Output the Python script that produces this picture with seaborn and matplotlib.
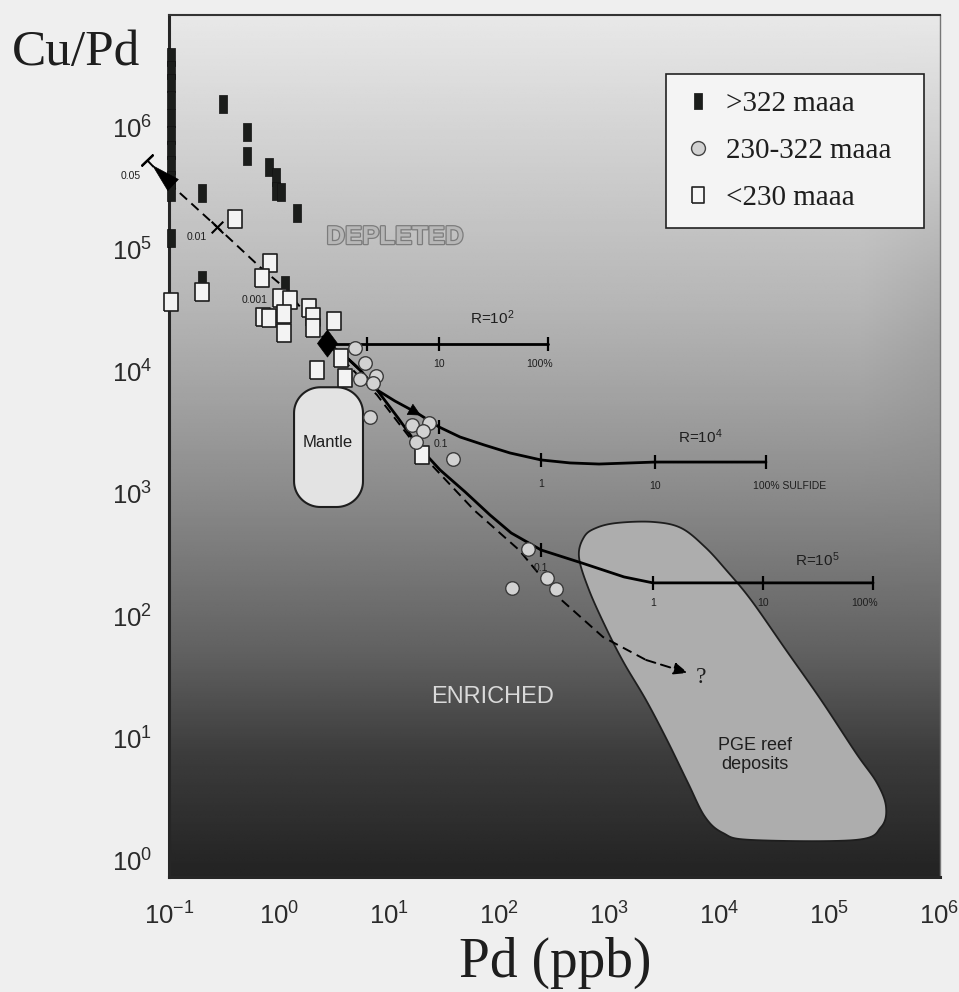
import numpy as np
import matplotlib
matplotlib.use("Agg")
import matplotlib.pyplot as plt
import seaborn as sns
import matplotlib.patheffects as pe
from matplotlib.markers import MarkerStyle
from matplotlib.lines import Line2D
from matplotlib.font_manager import FontProperties

# ---------------- data ----------------
# >322 maaa (Pd ppb, Cu/Pd)
old_pd = [0.104, 0.104, 0.104, 0.104, 0.104, 0.104, 0.104, 0.104, 0.104, 0.104, 0.104,
          0.31, 0.51, 0.51, 0.81, 0.94, 0.94, 1.04, 0.20, 1.46, 0.20, 1.13]
old_cupd = [5.07e6, 3.96e6, 3.10e6, 2.26e6, 1.61e6, 1.17e6, 8.8e5, 6.6e5, 5.0e5, 4.0e5, 1.68e5,
            2.1e6, 1.23e6, 7.9e5, 6.4e5, 5.3e5, 4.1e5, 4.0e5, 3.9e5, 2.7e5, 7.6e4, 6.9e4]

# 230-322 maaa
mid_pd = [4.9, 6.0, 5.4, 7.6, 7.2, 6.7, 16.2, 23, 20.4, 17.6, 38, 184, 131, 273, 330]
mid_cupd = [2.1e4, 1.6e4, 1.18e4, 1.25e4, 1.1e4, 5.8e3, 5.0e3, 5.2e3, 4.4e3, 3.6e3, 2.6e3,
            480, 230, 280, 226]

# <230 maaa
young_pd = [0.105, 0.20, 0.40, 0.83, 0.70, 1.02, 1.26, 0.72, 0.81, 1.11, 1.11, 1.86, 2.05,
            2.05, 3.16, 2.2, 3.66, 4.0, 20]
young_cupd = [5.0e4, 6.1e4, 2.4e5, 1.05e5, 7.9e4, 5.4e4, 5.2e4, 3.8e4, 3.7e4, 4.0e4, 2.8e4,
              4.5e4, 3.8e4, 3.1e4, 3.5e4, 1.4e4, 1.75e4, 1.2e4, 2.8e3]

# starting magma composition
start_pd, start_cupd = 2.73, 2.32e4

# sulfide segregation curves for R factors
r2_pd = [2.73, 279]
r2_cupd = [2.30e4, 2.30e4]
r4_pd = [2.73, 3.98, 5.45, 7.78, 11.3, 18.0, 28.5, 44.2, 73.1, 126, 241, 442, 811, 2620, 26700]
r4_cupd = [2.32e4, 1.82e4, 1.40e4, 9.6e3, 7.8e3, 6.22e3, 4.78e3, 3.96e3, 3.41e3, 2.93e3,
           2.57e3, 2.43e3, 2.38e3, 2.47e3, 2.47e3]
r5_pd = [2.73, 3.98, 5.45, 7.78, 12.1, 18.7, 29.1, 49.1, 82.8, 129, 241, 568, 1370, 2510,
         25100, 251000]
r5_cupd = [2.32e4, 1.82e4, 1.40e4, 9.6e3, 5.66e3, 3.28e3, 2.13e3, 1.41e3, 912, 650, 472,
           369, 284, 254, 254, 254]

# fractionation trend (dashed)
trend_pd = [0.063, 0.102, 0.273, 0.671, 1.13, 1.72, 2.73, 7.78, 22.1, 59.3, 152, 344, 881,
            2170, 5220]
trend_cupd = [7.29e5, 4.64e5, 2.07e5, 9.72e4, 6.55e4, 4.09e4, 2.32e4, 8.73e3, 2.57e3, 1.0e3,
              472, 195, 91.7, 59.5, 46.6]
trend_marks_pd = [0.063, 0.273, 1.13]
trend_marks_lbl = ["0.05", "0.01", "0.001"]

# % sulfide ticks
r2_tick_pd = [6.3, 28.5, 279]
r2_tick_lbl = ["", "10", "100%"]
r4_tick_pd = [28.5, 241, 2620, 26700]
r4_tick_lbl = ["0.1", "1", "10", "100% SULFIDE"]
r5_tick_pd = [241, 2510, 25100, 251000]
r5_tick_lbl = ["0.1", "1", "10", "100%"]

# fields
mantle_pd = [1.37, 5.8]
mantle_cupd = [1.06e3, 1.01e4]
pge_pd = [593, 762, 1183, 2512, 4515, 7460, 11590, 19540, 40600, 84600, 175900, 272900,
          329600, 297000, 175900, 19540, 10870, 7460, 5224, 3365, 2168, 1368, 959, 658, 533]
pge_cupd = [603, 714, 785, 800, 714, 499, 324, 184, 71.8, 28.0, 10.3, 5.87, 3.74, 2.56,
            2.01, 2.01, 2.29, 3.10, 5.87, 13.2, 28.0, 56.2, 104.6, 222, 414]

x_ticks = [1e-1, 1e0, 1e1, 1e2, 1e3, 1e4, 1e5, 1e6]
y_ticks = [1e0, 1e1, 1e2, 1e3, 1e4, 1e5, 1e6]

# ---------------- style ----------------
sns.set_style("white")
plt.rcParams["font.family"] = ["Liberation Sans", "DejaVu Sans"]
plt.rcParams["mathtext.default"] = "regular"
INK = "#1e1e1e"

fig = plt.figure(figsize=(9.59, 9.92), dpi=100, facecolor="#efefef")
rect = [169 / 959, 1 - 877 / 992, (940 - 169) / 959, (877 - 15) / 992]

# shaded background, light at the top and dark at the bottom
bg = fig.add_axes(rect, zorder=0)
stops_y = np.array([0.0, 0.02, 0.14, 0.26, 0.44, 0.55, 0.66, 0.78, 0.90, 1.0])
stops_v = np.array([0.14, 0.15, 0.235, 0.38, 0.54, 0.63, 0.71, 0.78, 0.85, 0.91])
gy = np.linspace(0, 1, 400)
gx = np.linspace(0, 1, 200)
col = np.interp(gy, stops_y, stops_v)
shade = col[:, None] * np.ones_like(gx)[None, :]
edge = np.clip((gx - 0.9) / 0.1, 0, 1)[None, :] * np.exp(-((gy[:, None] - 0.66) / 0.16) ** 2)
shade = shade - 0.045 * edge
bg.imshow(shade, extent=[0, 1, 0, 1], origin="lower", aspect="auto", cmap="gray",
          vmin=0, vmax=1, interpolation="bilinear")
bg.set_xlim(0, 1)
bg.set_ylim(0, 1)
bg.axis("off")

ax = fig.add_axes(rect, zorder=1)
ax.patch.set_alpha(0)
ax.set_xscale("log")
ax.set_yscale("log")
ax.set_xlim(0.1, 1.02e6)
ax.set_ylim(1, 1.117e7)


def lg(v):
    return np.log10(np.asarray(v, dtype=float))


def on_curve(xq, cx, cy):
    return 10 ** np.interp(lg(xq), lg(cx), lg(cy))


def closed_spline(px, py, n=14):
    pts = np.column_stack([px, py])
    N = len(pts)
    t = np.linspace(0, 1, n, endpoint=False)[:, None]
    out = []
    for i in range(N):
        p0, p1, p2, p3 = pts[(i - 1) % N], pts[i], pts[(i + 1) % N], pts[(i + 2) % N]
        out.append(0.5 * (2 * p1 + (-p0 + p2) * t + (2 * p0 - 5 * p1 + 4 * p2 - p3) * t ** 2
                          + (-p0 + 3 * p1 - 3 * p2 + p3) * t ** 3))
    out = np.vstack(out)
    return out[:, 0], out[:, 1]


def rounded_box(x0, x1, y0, y1, rx, ry, n=20):
    xs, ys = [], []
    corners = [(x1 - rx, y1 - ry, 0), (x0 + rx, y1 - ry, 90),
               (x0 + rx, y0 + ry, 180), (x1 - rx, y0 + ry, 270)]
    for cx, cy, a0 in corners:
        a = np.radians(np.linspace(a0, a0 + 90, n))
        xs.extend(cx + rx * np.cos(a))
        ys.extend(cy + ry * np.sin(a))
    return np.array(xs), np.array(ys)


# PGE reef field
sx, sy = closed_spline(lg(pge_pd), lg(pge_cupd))
ax.fill(10 ** sx, 10 ** sy, facecolor="#adadad", edgecolor=INK, lw=1.3, zorder=2)

# mantle field
mx, my = rounded_box(lg(mantle_pd[0]), lg(mantle_pd[1]), lg(mantle_cupd[0]),
                     lg(mantle_cupd[1]), 0.24, 0.21)
ax.fill(10 ** mx, 10 ** my, facecolor="#e3e3e3", edgecolor=INK, lw=1.5, zorder=2)

# model curves
for cx, cy in [(r2_pd, r2_cupd), (r4_pd, r4_cupd), (r5_pd, r5_cupd)]:
    sns.lineplot(x=cx, y=cy, sort=False, estimator=None, color="black", lw=2.0,
                 ax=ax, zorder=3)
sns.lineplot(x=trend_pd[:-1], y=trend_cupd[:-1], sort=False, estimator=None, color="black",
             lw=1.4, linestyle=(0, (5, 3)), ax=ax, zorder=3)
ax.lines[-1].set_clip_on(False)

# sulfide-percentage ticks and their labels
lab_off = {"r2": (0, -14.5), "r4": (0, -17), "r5": (0, -14.5)}
for key, tpd, tlb, cx, cy in [("r2", r2_tick_pd, r2_tick_lbl, r2_pd, r2_cupd),
                              ("r4", r4_tick_pd, r4_tick_lbl, r4_pd, r4_cupd),
                              ("r5", r5_tick_pd, r5_tick_lbl, r5_pd, r5_cupd)]:
    ty = on_curve(tpd, cx, cy)
    sns.scatterplot(x=tpd, y=ty, marker="|", s=110, color="black", linewidth=1.6,
                    ax=ax, zorder=3.5)
    for xv, yv, t in zip(tpd, ty, tlb):
        if not t:
            continue
        dx, dy = lab_off[key]
        ha = "center"
        if t.startswith("100%"):
            dx = -6
        if t == "100% SULFIDE":
            ha, dx = "left", -9.5
        if t == "0.1":
            dy = -12.5 if key == "r4" else -13
            dx = 1 if key == "r4" else 0
        ax.annotate(t, (xv, yv), xytext=(dx, dy), textcoords="offset points", ha=ha,
                    va="center", fontsize=7.5, color=INK, zorder=8)

# R labels
ax.text(86.1, 3.72e4, "R=10$^2$", fontsize=11, color=INK, ha="center", va="center", zorder=8)
ax.text(6.7e3, 3.96e3, "R=10$^4$", fontsize=11, color=INK, ha="center", va="center", zorder=8)
ax.text(7.78e4, 391, "R=10$^5$", fontsize=11, color=INK, ha="center", va="center", zorder=8)

# marks along the fractionation trend
ty_marks = on_curve(trend_marks_pd, trend_pd, trend_cupd)
sns.scatterplot(x=[trend_marks_pd[0]], y=[ty_marks[0]], marker=(2, 2, -46), s=110,
                color="black", linewidth=1.6, ax=ax, zorder=6, clip_on=False)
sns.scatterplot(x=[trend_marks_pd[1]], y=[ty_marks[1]], marker="x", s=70,
                color="black", linewidth=1.5, ax=ax, zorder=6)
mark_off = [(-12, -11.5), (-14.5, -7), (-21.5, -8.5)]
for xv, yv, t, off in zip(trend_marks_pd, ty_marks, trend_marks_lbl, mark_off):
    ax.annotate(t, (xv, yv), xytext=off, textcoords="offset points", ha="center",
                va="center", fontsize=7.5, color=INK, zorder=8, annotation_clip=False)

# arrowheads
ax.annotate("", xy=(0.070, 6.64e5), xytext=(0.1065, 4.64e5),
            arrowprops=dict(arrowstyle="-|>,head_length=0.8,head_width=0.22",
                            mutation_scale=25, color="black", lw=0.5, shrinkA=0, shrinkB=0),
            annotation_clip=False, zorder=6)
a4 = [12.6, 19.5]
ax.annotate("", xy=(a4[1], on_curve(a4[1], r4_pd, r4_cupd)),
            xytext=(a4[0], on_curve(a4[0], r4_pd, r4_cupd)),
            arrowprops=dict(arrowstyle="-|>,head_length=0.6,head_width=0.3",
                            mutation_scale=14, color="black", lw=0.5, shrinkA=0, shrinkB=0),
            zorder=6)
ax.annotate("", xy=(trend_pd[-1], trend_cupd[-1]), xytext=(trend_pd[-2], trend_cupd[-2]),
            arrowprops=dict(arrowstyle="-|>,head_length=0.6,head_width=0.25",
                            mutation_scale=14, color="black", lw=1.4, linestyle=(0, (5, 3)),
                            shrinkA=0, shrinkB=0),
            zorder=6)
ax.text(6.9e3, 42.4, "?", fontsize=17, family="Liberation Serif", color=INK,
        ha="center", va="center", zorder=8)

# samples
old_marker = MarkerStyle([(-0.47, -1), (0.47, -1), (0.47, 1), (-0.47, 1), (-0.47, -1)])
young_marker = MarkerStyle([(-0.76, -1), (0.76, -1), (0.76, 1), (-0.76, 1), (-0.76, -1)])
diamond = MarkerStyle([(0, 1), (0.74, 0), (0, -1), (-0.74, 0), (0, 1)])

sns.scatterplot(x=old_pd, y=old_cupd, marker=old_marker, s=150, color="#1b1d1b",
                edgecolor="#111111", linewidth=0.5, ax=ax, zorder=4, clip_on=False)
sns.scatterplot(x=young_pd, y=young_cupd, marker=young_marker, s=160, color="#f3f3f3",
                edgecolor="#1e1e1e", linewidth=1.2, ax=ax, zorder=5, clip_on=False)
sns.scatterplot(x=mid_pd, y=mid_cupd, marker="o", s=95, color="#d2d2d2",
                edgecolor="#3a3a3a", linewidth=1.0, ax=ax, zorder=5.5)
sns.scatterplot(x=[start_pd], y=[start_cupd], marker=diamond, s=380, color="black",
                edgecolor="black", linewidth=0.5, ax=ax, zorder=7)

# field labels
ax.text(11.4, 1.71e5, "DEPLETED", fontsize=18.5, fontweight="bold", color="#b7b7b7",
        ha="center", va="center", zorder=8,
        path_effects=[pe.withStroke(linewidth=1.8, foreground="#7c7c7c")])
ax.text(88, 29.6, "ENRICHED", fontsize=17, color="#d9d9d9", ha="center", va="center",
        zorder=8)
ax.text(2.12e4, 9.95, "PGE reef\ndeposits", fontsize=13, color=INK, ha="center",
        va="center", linespacing=1.15, zorder=8)
ax.text(2.79, 3.6e3, "Mantle", fontsize=12, color=INK, ha="center", va="center", zorder=8)

# legend
handles = [
    Line2D([], [], ls="", marker=old_marker, markersize=11, mfc="#1b1d1b", mec="#111111",
           mew=0.5, label=">322 maaa"),
    Line2D([], [], ls="", marker="o", markersize=10, mfc="#d2d2d2", mec="#444444",
           mew=1.0, label="230-322 maaa"),
    Line2D([], [], ls="", marker=young_marker, markersize=12, mfc="#f6f6f6", mec="#222222",
           mew=1.2, label="<230 maaa"),
]
leg = ax.legend(handles=handles, loc="upper left", bbox_to_anchor=(0.645, 0.9316, 0.334, 0.0),
                mode="expand", prop=FontProperties(family="Liberation Serif", size=21),
                frameon=True, fancybox=False, edgecolor="#222222", facecolor="#f4f4f4",
                framealpha=1, borderpad=0.58, labelspacing=0.70, handlelength=1.02,
                handletextpad=0.44, borderaxespad=0)
leg.get_frame().set_linewidth(1.2)
leg.set_zorder(9)
for t in leg.get_texts():
    t.set_color(INK)

# axes styling
ax.set_xticks(x_ticks)
ax.set_yticks(y_ticks)
ax.minorticks_off()
ax.tick_params(axis="x", direction="out", length=11, width=1.6, pad=7, labelsize=18.5,
               colors="black", labelcolor="#2a2a2a")
ax.tick_params(axis="y", direction="inout", length=10, width=1.6, pad=7, labelsize=18.5,
               colors="black", labelcolor="#2a2a2a")
plt.setp(ax.get_yticklabels(), va="bottom")
ax.spines["left"].set_linewidth(2.2)
ax.spines["bottom"].set_linewidth(2.2)
ax.spines["top"].set_linewidth(1.5)
ax.spines["top"].set_color("#333333")
ax.spines["right"].set_linewidth(1.0)
ax.spines["right"].set_color("#777777")
for s in ax.spines.values():
    s.set_zorder(3.2)

ax.set_xlabel("Pd (ppb)", family="Liberation Serif", fontsize=40, color=INK, va="center")
ax.xaxis.set_label_coords(0.5006, -0.0998)
ax.set_ylabel("Cu/Pd", family="Liberation Serif", fontsize=37, color=INK, rotation=0,
              ha="left", va="center")
ax.yaxis.set_label_coords(-0.2036, 0.956)

fig.savefig("out.png", dpi=100, facecolor=fig.get_facecolor())
